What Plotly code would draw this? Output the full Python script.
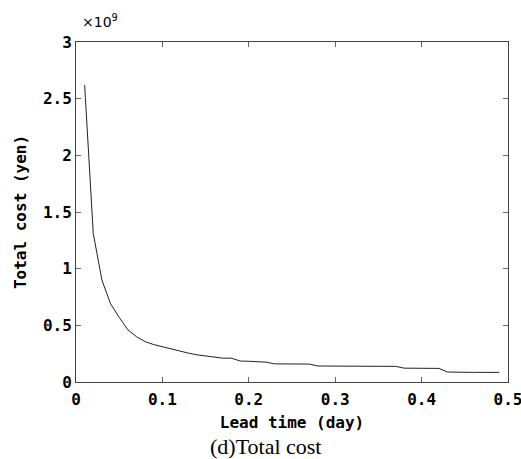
import plotly.graph_objects as go

lead_time = [0.01, 0.02, 0.03, 0.04, 0.05, 0.06, 0.07, 0.08, 0.09, 0.10,
             0.11, 0.12, 0.13, 0.14, 0.15, 0.16, 0.17, 0.18, 0.19, 0.20,
             0.21, 0.22, 0.23, 0.24, 0.25, 0.26, 0.27, 0.28, 0.29, 0.30,
             0.31, 0.32, 0.33, 0.34, 0.35, 0.36, 0.37, 0.38, 0.39, 0.40,
             0.41, 0.42, 0.43, 0.44, 0.45, 0.46, 0.47, 0.48, 0.49]
total_cost_e9 = [2.62, 1.31, 0.90, 0.69, 0.57, 0.46, 0.40, 0.356, 0.33, 0.31,
                 0.29, 0.27, 0.255, 0.24, 0.23, 0.22, 0.21, 0.21, 0.185, 0.183,
                 0.18, 0.175, 0.16, 0.158, 0.158, 0.158, 0.158, 0.141, 0.141, 0.141,
                 0.141, 0.141, 0.141, 0.141, 0.140, 0.139, 0.138, 0.122, 0.12, 0.12,
                 0.12, 0.12, 0.088, 0.085, 0.085, 0.085, 0.085, 0.085, 0.085]
total_cost = [v * 1e9 for v in total_cost_e9]

x_ticks = [0, 0.1, 0.2, 0.3, 0.4, 0.5]
x_ticktext = ["0", "0.1", "0.2", "0.3", "0.4", "0.5"]
y_ticks = [0, 0.5e9, 1.0e9, 1.5e9, 2.0e9, 2.5e9, 3.0e9]
y_ticktext = ["0", "0.5", "1", "1.5", "2", "2.5", "3"]

MONO = "DejaVu Sans Mono"
L, R, T, B = 76, 13, 42, 77
W, H = 521, 459
pw, ph = W - L - R, H - T - B

fig = go.Figure()
fig.add_trace(go.Scatter(x=lead_time, y=total_cost, mode="lines",
                         line=dict(color="#222222", width=1), showlegend=False))

tickfont = dict(family=MONO, size=16, color="black", weight="bold")
axis_common = dict(showgrid=False, zeroline=False, showline=True, linecolor="#444444",
                   linewidth=1, mirror="allticks", ticks="inside", ticklen=5,
                   tickcolor="#666666", tickwidth=1, automargin=False,
                   ticklabeloverflow="allow", tickfont=tickfont)

fig.update_xaxes(range=[0, 0.5], tickvals=x_ticks, ticktext=x_ticktext,
                 ticklabelstandoff=3,
                 title=dict(text="<b>Lead time (day)</b>", standoff=8,
                            font=dict(family=MONO, size=16, color="black")),
                 **axis_common)
fig.update_yaxes(range=[0, 3e9], tickvals=y_ticks, ticktext=y_ticktext,
                 title=dict(text="<b>Total cost (yen)</b>", standoff=12,
                            font=dict(family=MONO, size=16, color="black")),
                 **axis_common)

fig.add_annotation(x=(80 - L) / pw, y=1, xref="paper", yref="paper",
                   xanchor="left", yanchor="bottom",
                   yshift=10, showarrow=False, text="×10<sup>9</sup>",
                   font=dict(family="DejaVu Sans", size=14, color="black"))
fig.add_annotation(x=(265 - L) / pw, y=(H - B - 446) / ph, xref="paper", yref="paper",
                   xanchor="center", yanchor="middle", showarrow=False,
                   text="(d)Total cost",
                   font=dict(family="Liberation Serif", size=22, color="black"))

fig.update_layout(width=W, height=H, margin=dict(l=L, r=R, t=T, b=B),
                  paper_bgcolor="white", plot_bgcolor="white",
                  font=dict(family=MONO, color="black"))

fig.write_html("out.html", config={"displayModeBar": False},
               post_script="document.body.style.margin='0';document.body.style.overflow='hidden';")
